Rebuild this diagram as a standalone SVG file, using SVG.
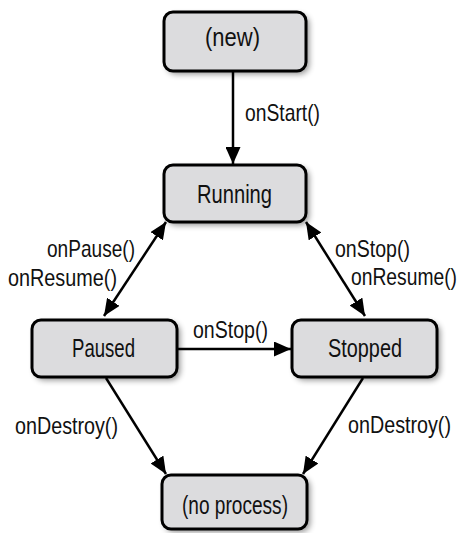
<svg xmlns="http://www.w3.org/2000/svg" width="461" height="533" viewBox="0 0 461 533">
  <style>
    .state rect.box { fill: #dcdcde; stroke: #000; stroke-width: 3; }
    .state rect.shadow { fill: #000; opacity: 0.45; filter: url(#soft); }
    text { font-family: "Liberation Sans", "DejaVu Sans", sans-serif; font-size: 24px; fill: #111; }
    .state text { font-size: 26px; }
    .connectors line { stroke: #000; stroke-width: 2.5; fill: none; }
  </style>
  <defs>
    <filter id="soft" x="-20%" y="-20%" width="140%" height="140%">
      <feGaussianBlur stdDeviation="3"/>
    </filter>
    <marker id="head" viewBox="0 0 17 15" refX="17" refY="7.5" markerWidth="17" markerHeight="15" markerUnits="userSpaceOnUse" orient="auto-start-reverse">
      <path d="M0,0 L17,7.5 L0,15 Z" fill="#000"/>
    </marker>
  </defs>

  <!-- connectors -->
  <g class="connectors">
    <line x1="233" y1="72" x2="233" y2="164" marker-end="url(#head)"/>
    <line x1="104" y1="316" x2="166" y2="222" marker-start="url(#head)" marker-end="url(#head)"/>
    <line x1="306" y1="222" x2="365" y2="316" marker-start="url(#head)" marker-end="url(#head)"/>
    <line x1="178" y1="349" x2="291" y2="349" marker-end="url(#head)"/>
    <line x1="106" y1="378" x2="166" y2="474" marker-end="url(#head)"/>
    <line x1="363" y1="378" x2="303" y2="474" marker-end="url(#head)"/>
  </g>

  <!-- connector labels -->
  <g class="labels">
    <text x="245" y="121" textLength="75" lengthAdjust="spacingAndGlyphs">onStart()</text>
    <text x="47" y="257" textLength="88" lengthAdjust="spacingAndGlyphs">onPause()</text>
    <text x="8" y="286" textLength="109" lengthAdjust="spacingAndGlyphs">onResume()</text>
    <text x="335" y="257" textLength="75" lengthAdjust="spacingAndGlyphs">onStop()</text>
    <text x="351" y="285" textLength="106" lengthAdjust="spacingAndGlyphs">onResume()</text>
    <text x="15" y="434" textLength="103" lengthAdjust="spacingAndGlyphs">onDestroy()</text>
    <text x="193" y="338" textLength="75" lengthAdjust="spacingAndGlyphs">onStop()</text>
    <text x="348" y="433" textLength="103" lengthAdjust="spacingAndGlyphs">onDestroy()</text>
  </g>

  <!-- states -->
  <g id="state-new" class="state">
    <rect class="shadow" x="167" y="15" width="142" height="59" rx="9"/>
    <rect class="box" x="164" y="12" width="142" height="59" rx="9"/>
    <text x="205" y="46" textLength="55" lengthAdjust="spacingAndGlyphs">(new)</text>
  </g>
  <g id="state-running" class="state">
    <rect class="shadow" x="167" y="168" width="142" height="57" rx="9"/>
    <rect class="box" x="164" y="165" width="142" height="57" rx="9"/>
    <text x="197" y="203" textLength="75" lengthAdjust="spacingAndGlyphs">Running</text>
  </g>
  <g id="state-paused" class="state">
    <rect class="shadow" x="35" y="323" width="145" height="57" rx="9"/>
    <rect class="box" x="32" y="320" width="145" height="57" rx="9"/>
    <text x="72" y="357" textLength="63" lengthAdjust="spacingAndGlyphs">Paused</text>
  </g>
  <g id="state-stopped" class="state">
    <rect class="shadow" x="295" y="323" width="145" height="57" rx="9"/>
    <rect class="box" x="292" y="320" width="145" height="57" rx="9"/>
    <text x="328" y="357" textLength="74" lengthAdjust="spacingAndGlyphs">Stopped</text>
  </g>
  <g id="state-no-process" class="state">
    <rect class="shadow" x="165" y="478" width="145" height="54" rx="9"/>
    <rect class="box" x="162" y="475" width="145" height="54" rx="9"/>
    <text x="182" y="514" textLength="106" lengthAdjust="spacingAndGlyphs">(no process)</text>
  </g>
</svg>
